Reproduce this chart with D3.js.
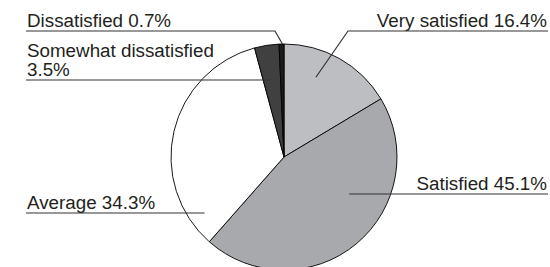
<!DOCTYPE html>
<html>
<head>
<meta charset="utf-8">
<script src="https://cdn.jsdelivr.net/npm/d3@7"></script>
<style>
  body { margin: 0; background: #fff; }
  text { font-family: "Liberation Sans", Arial, Helvetica, sans-serif; fill: #231f20; }
</style>
</head>
<body>
<script>
//Width and height
var w = 550;
var h = 267;

//Data
var categories = ["Very satisfied", "Satisfied", "Average", "Somewhat dissatisfied", "Dissatisfied"];
var values = [16.4, 45.1, 34.3, 3.5, 0.7];
var colors = ["#bdbec1", "#a8a9ac", "#ffffff", "#404040", "#1e1b1c"];

//Label layout: text lines, text x/anchor, underline y and x-extent, inner point (polar: deg, fraction of radius)
var labelLines = [["Very satisfied 16.4%"], ["Satisfied 45.1%"], ["Average 34.3%"], ["Somewhat dissatisfied", "3.5%"], ["Dissatisfied 0.7%"]];
var labelLayout = [
  {x: 547, anchor: "end",   lineY: 31,  x0: 348, x1: 548, ang: 21.8,  rf: 0.76},
  {x: 547, anchor: "end",   lineY: 194, x0: 350, x1: 548, ang: 119,   rf: 0.67},
  {x: 27,  anchor: "start", lineY: 213, x0: 26,  x1: 204, ang: 235,   rf: 0.86},
  {x: 27,  anchor: "start", lineY: 80,  x0: 26,  x1: 270, ang: 349.7, rf: 0.69},
  {x: 27,  anchor: "start", lineY: 31,  x0: 26,  x1: 275, ang: 359.2, rf: 1.0}
];

var cx = 284, cy = 157, r = 113;

var svg = d3.select("body")
            .append("svg")
            .attr("width", w)
            .attr("height", h);

var pie = d3.pie().sort(null).value(function(d) { return d; });
var arc = d3.arc().innerRadius(0).outerRadius(r);

var g = svg.append("g").attr("transform", "translate(" + cx + "," + cy + ")");

g.selectAll("path")
 .data(pie(values))
 .enter()
 .append("path")
 .attr("d", arc)
 .style("fill", function(d, i) { return colors[i]; })
 .style("stroke", "#000")
 .style("stroke-width", 0.9);

//Labels with leader lines
labelLayout.forEach(function(L, i) {
    var p = d3.pointRadial(L.ang * Math.PI / 180, L.rf * r);
    var px = cx + p[0], py = cy + p[1];
    var pts;
    if (L.anchor === "end") {
        pts = [[L.x1, L.lineY], [L.x0, L.lineY], [px, py]];
    } else {
        pts = [[L.x0, L.lineY], [L.x1, L.lineY], [px, py]];
    }
    svg.append("path")
       .attr("d", d3.line()(pts))
       .style("fill", "none")
       .style("stroke", "#333")
       .style("stroke-width", 1.2);

    var lines = labelLines[i];
    lines.forEach(function(t, k) {
        svg.append("text")
           .attr("x", L.x)
           .attr("y", L.lineY - 4.5 - (lines.length - 1 - k) * 19)
           .attr("text-anchor", L.anchor)
           .style("font-size", "18.8px")
           .text(t);
    });
});
</script>
</body>
</html>
